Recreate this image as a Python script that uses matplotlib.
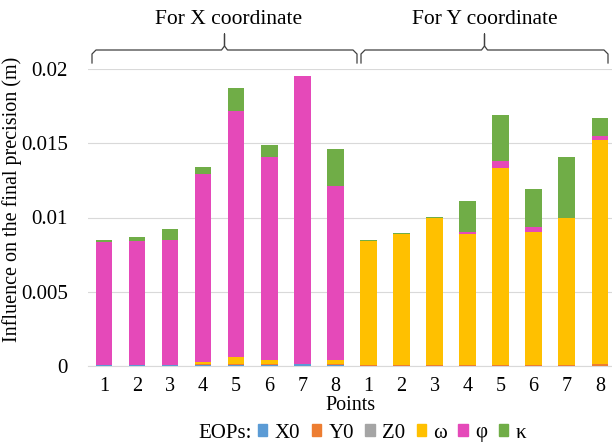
import numpy as np
import matplotlib.pyplot as plt
from matplotlib.patches import Patch

plt.rcParams['font.family'] = ['Liberation Serif', 'DejaVu Serif']
plt.rcParams['font.size'] = 15

# point labels: 8 points for X, then 8 points for Y
points = ['1', '2', '3', '4', '5', '6', '7', '8'] * 2

# influence of each exterior orientation parameter (m)
x0 = [0.0001, 0.0001, 0.0001, 0.0001, 0.0001, 0.0001, 0.00015, 0.0001,
      0, 0, 0, 0, 0, 0, 0, 0]
y0 = [0, 0, 0, 0.00005, 0.00005, 0.00005, 0, 0.00005,
      0.0001, 0.0001, 0.0001, 0.0001, 0.0001, 0.0001, 0.0001, 0.00012]
z0 = [0] * 16
omega = [0, 0, 0, 0.00015, 0.00045, 0.00025, 0, 0.00025,
         0.00833, 0.0088, 0.00988, 0.0088, 0.01325, 0.00895, 0.00988, 0.01513]
phi = [0.00826, 0.0083, 0.0084, 0.0126, 0.0166, 0.0137, 0.01935, 0.01173,
       0, 0, 0, 0.00013, 0.00045, 0.0003, 0, 0.00027]
kappa = [0.0001, 0.00027, 0.0007, 0.00053, 0.00155, 0.0008, 0, 0.00245,
         0.00005, 0.00005, 0.00005, 0.00207, 0.00307, 0.00258, 0.00411, 0.00117]

series = [('X0', x0, '#5b9bd5'), ('Y0', y0, '#ed7d31'), ('Z0', z0, '#a5a5a5'),
          ('ω', omega, '#ffc000'), ('φ', phi, '#e549b9'), ('κ', kappa, '#70ad47')]

fig = plt.figure(figsize=(6.12, 4.46), dpi=100)
ax = fig.add_axes([87.5 / 612, 1 - 366 / 446, (612 - 87.5) / 612, (366 - 69) / 446])

x = np.arange(len(points))
bottom = np.zeros(len(points))
for name, vals, col in series:
    ax.bar(x, vals, width=0.5, bottom=bottom, color=col, label=name, zorder=3)
    bottom += np.array(vals)

ax.set_xlim(-0.5, 15.37)
ax.set_ylim(0, 0.02)
ax.set_yticks([0, 0.005, 0.01, 0.015, 0.02])
ax.set_yticklabels(['0', '0.005', '0.01', '0.015', '0.02'])
ax.set_xticks(x)
ax.set_xticklabels(points)
ax.tick_params(axis='y', length=0, labelsize=15, pad=14)
ax.tick_params(axis='x', length=0, labelsize=14.5, pad=8)
ax.grid(axis='y', color='#d9d9d9', linewidth=0.8, zorder=0)
for s in ['top', 'right', 'left']:
    ax.spines[s].set_visible(False)
ax.spines['bottom'].set_color('#d9d9d9')

# axis titles placed directly in figure pixels
fig.text(350 / 612, 1 - 405 / 446, 'Points', ha='center', va='center', fontsize=14.5)
fig.text(12 / 612, 1 - 199 / 446, 'Influence on the final precision (m)',
         rotation=90, ha='center', va='center', fontsize=14.5)


# curly braces over the two groups, drawn in pixel coordinates
def brace_px(x1, x2, ybar, ybot, ytip):
    xm = (x1 + x2) / 2
    xs = np.array([x1, x1, x1 + 4, xm - 3, xm, xm, xm, xm + 3, x2 - 4, x2, x2])
    ys = np.array([ybot, ybar + 4, ybar, ybar, ybar - 4, ytip, ybar - 4, ybar, ybar, ybar + 4, ybot])
    fig.add_artist(plt.Line2D(xs / 612, 1 - ys / 446, color='#404040', linewidth=0.9))


brace_px(92, 357, 50, 63, 34)
brace_px(361, 608, 50, 63, 34)
fig.text(229 / 612, 1 - 20 / 446, 'For X coordinate', ha='center', va='center', fontsize=15.5)
fig.text(485 / 612, 1 - 20 / 446, 'For Y coordinate', ha='center', va='center', fontsize=15.5)

# legend along the bottom
handles = [Patch(color=c, label=n) for n, v, c in series]
fig.text(225 / 612, 1 - 433 / 446, 'EOPs:', ha='center', va='center', fontsize=15)
fig.legend(handles=handles, loc='center left', bbox_to_anchor=(258 / 612, 1 - 433 / 446),
           ncol=6, frameon=False, fontsize=15, handlelength=0.45, handleheight=0.45,
           handletextpad=0.35, columnspacing=0.55, borderpad=0, borderaxespad=0)

fig.savefig('out.png', dpi=100)
